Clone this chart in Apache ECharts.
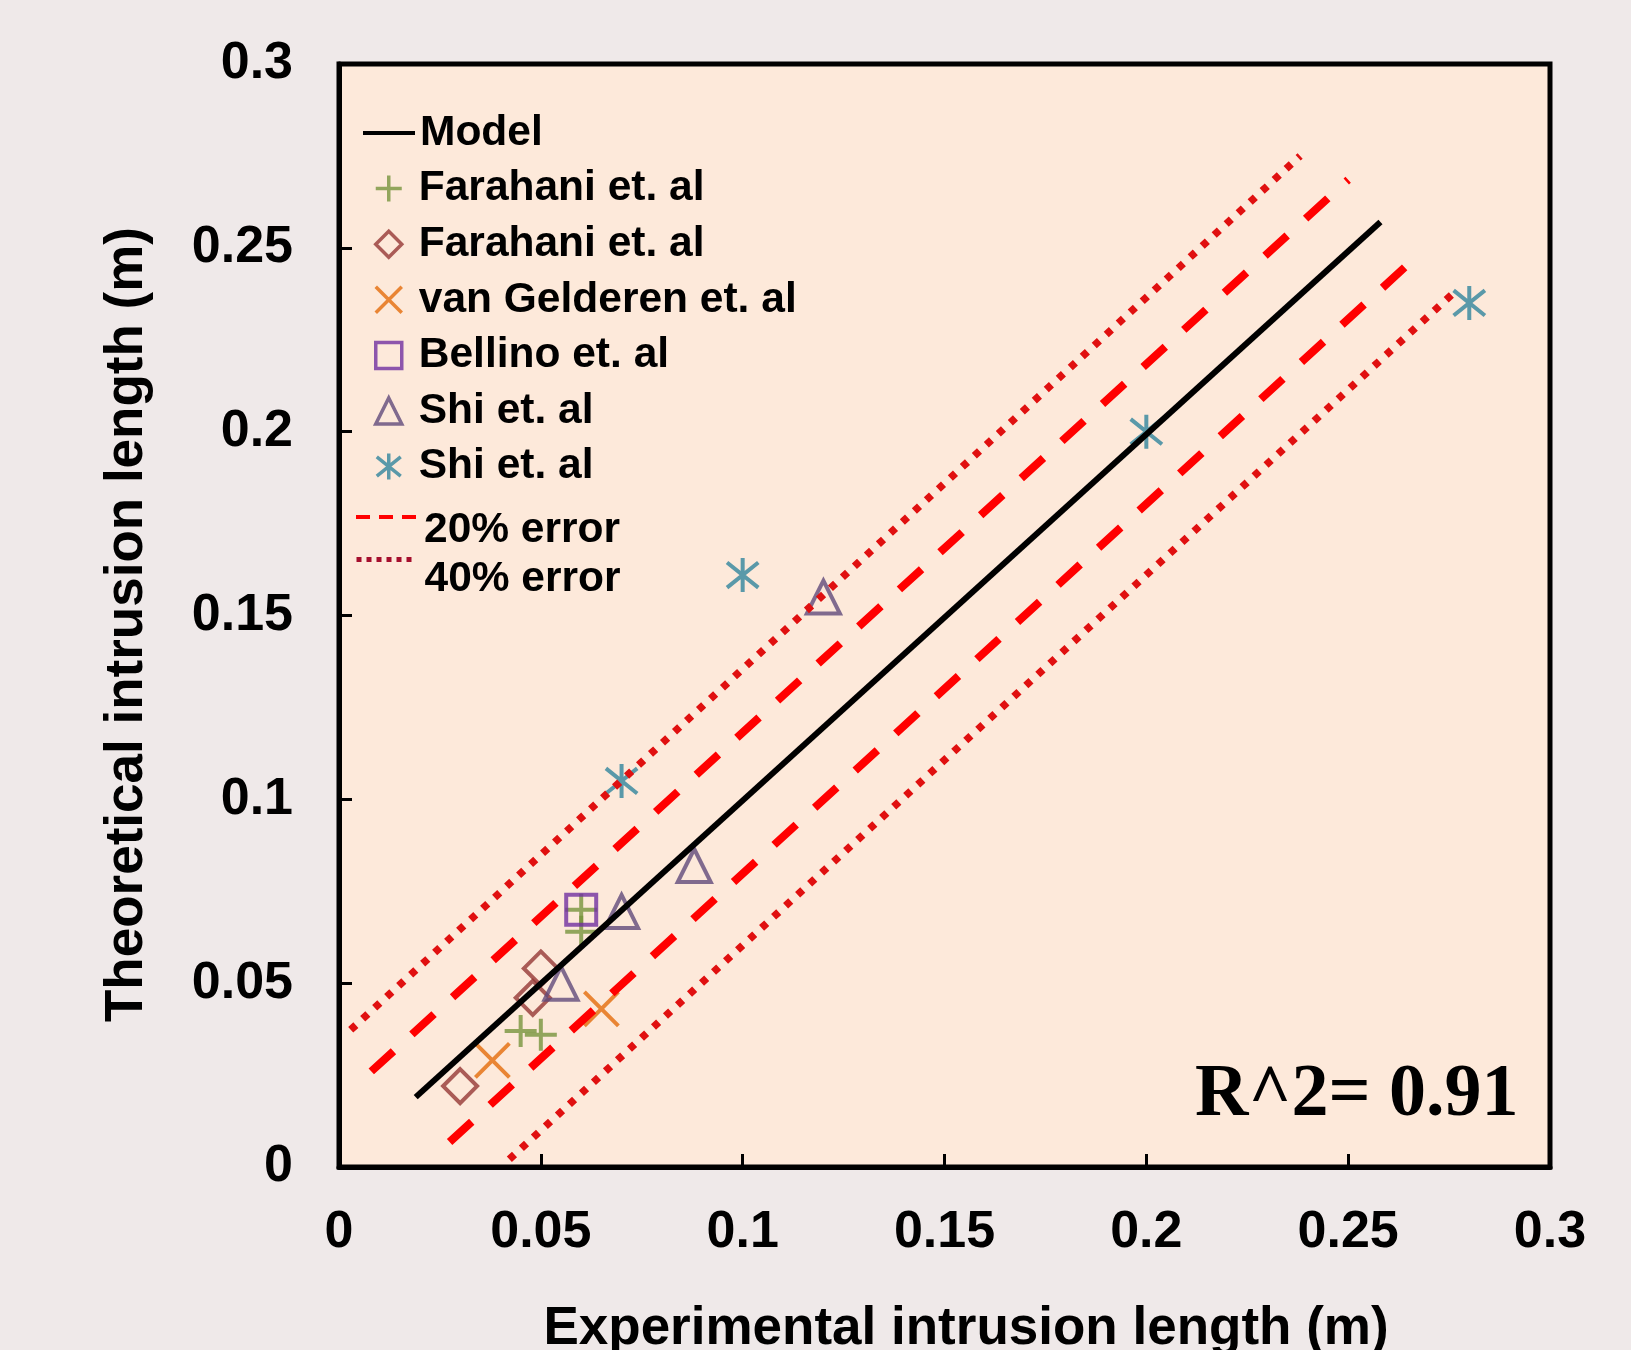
<!DOCTYPE html>
<html><head><meta charset="utf-8">
<script src="https://cdn.jsdelivr.net/npm/echarts@6/dist/echarts.min.js"></script>
<style>html,body{margin:0;padding:0;background:#EFE9E9;} #c{width:1631px;height:1350px;}</style>
</head><body><div id="c"></div>
<script>
// ---- data ----
const farahaniPlus = [[0.06,0.07],[0.06,0.064],[0.045,0.037],[0.05,0.036]];
const farahaniDiamond = [[0.05,0.054],[0.048,0.046],[0.03,0.022]];
const vanGelderen = [[0.038,0.029],[0.065,0.043]];
const bellino = [[0.06,0.07]];
const shiTriangle = [[0.055,0.05],[0.07,0.0695],[0.088,0.082],[0.12,0.155]];
const shiStar = [[0.07,0.105],[0.1,0.161],[0.2,0.2],[0.28,0.235]];
const modelLine = [[0.019,0.019],[0.258,0.257]];
const err20Upper = [[0.008,0.026],[0.25,0.2685]];
const err20Lower = [[0.0274,0.0068],[0.2683,0.249]];
const err40Upper = [[0.0029,0.0373],[0.2381,0.275]];
const err40Lower = [[0.0422,0.0021],[0.276,0.2376]];
const axisMin = 0, axisMax = 0.3, axisStep = 0.05;
const rSquaredText = 'R^2= 0.91';
const xTitle = 'Experimental intrusion length (m)';
const yTitle = 'Theoretical intrusion length (m)';

const FONT = 'Liberation Sans, Arial, sans-serif';
const PLUS = 'path://M0,5L10,5M5,0L5,10';
const CROSS = 'path://M0,0L10,10M10,0L0,10';
const STAR = 'path://M5,0L5,10M0.4,1.3L9.6,8.7M9.6,1.3L0.4,8.7';
const HIDDEN_DOT = { color: 'transparent', borderColor: 'transparent', borderWidth: 0, opacity: 0 };

function scatter(name, data, symbol, color, size) {
  return {
    type: 'scatter', name: name, data: data, symbol: symbol, symbolSize: size,
    symbolKeepAspect: true, z: 2, silent: true,
    itemStyle: { color: 'transparent', borderColor: color, borderWidth: 4 }
  };
}
function line(name, data, color, width, type) {
  return {
    type: 'line', name: name, data: data, symbol: 'none', z: 3, silent: true,
    lineStyle: { color: color, width: width, type: type, cap: 'butt' },
    itemStyle: { color: color }
  };
}

const chart = echarts.init(document.getElementById('c'), null, { renderer: 'canvas' });
const axisCommon = {
  type: 'value', min: axisMin, max: axisMax, interval: axisStep,
  splitLine: { show: false },
  axisLine: { show: true, lineStyle: { color: '#000', width: 5 } },
  axisTick: { show: true, inside: true, length: 13, lineStyle: { color: '#000', width: 3 } },
  nameLocation: 'middle'
};
const legendText = { fontFamily: FONT, fontWeight: 'bold', fontSize: 42.5, color: '#000' };
const option = {
  backgroundColor: '#EFE9E9',
  animation: false,
  title: {
    text: rSquaredText, left: 1195, top: 1059, padding: 0,
    textStyle: { fontFamily: 'Liberation Serif, Times New Roman, serif', fontWeight: 'bold', fontSize: 74, color: '#000' }
  },
  grid: {
    left: 339, top: 64, right: 81, bottom: 183, containLabel: false, outerBoundsMode: 'none',
    show: true, backgroundColor: '#FDE9DA', borderColor: '#000', borderWidth: 5
  },
  xAxis: Object.assign({}, axisCommon, {
    name: xTitle, nameGap: 136,
    nameTextStyle: { fontFamily: FONT, fontWeight: 'bold', fontSize: 53, color: '#000', padding: [0, 0, 0, 43] },
    axisLabel: { fontFamily: FONT, fontWeight: 'bold', fontSize: 52, color: '#000', margin: 40 }
  }),
  yAxis: Object.assign({}, axisCommon, {
    name: yTitle, nameGap: 185,
    nameTextStyle: { fontFamily: FONT, fontWeight: 'bold', fontSize: 53, color: '#000', padding: [0, 18, 0, 0] },
    axisLabel: { fontFamily: FONT, fontWeight: 'bold', fontSize: 52, color: '#000', margin: 46 }
  }),
  legend: [
    {
      left: 361, top: 111, orient: 'vertical', padding: 0,
      itemWidth: 52, itemHeight: 26, selectedMode: false,
      textStyle: Object.assign({ lineHeight: 44 }, legendText),
      data: [{ name: 'Model', lineStyle: { width: 4 }, itemStyle: HIDDEN_DOT }]
    },
    {
      left: 374, top: 166.6, orient: 'vertical', padding: 0, itemGap: 11.6,
      itemWidth: 26, itemHeight: 26, selectedMode: false, symbolKeepAspect: true,
      textStyle: Object.assign({ lineHeight: 44, padding: [0, 0, 0, 12] }, legendText),
      formatter: function (n) { return n.split('#')[0]; },
      data: [
        { name: 'Farahani et. al#1', itemStyle: { borderWidth: 3.5 } },
        { name: 'Farahani et. al#2', itemStyle: { borderWidth: 3.5 } },
        { name: 'van Gelderen et. al', itemStyle: { borderWidth: 3.5 } },
        { name: 'Bellino et. al', itemStyle: { borderWidth: 3.5 } },
        { name: 'Shi et. al#1', itemStyle: { borderWidth: 3.5 } },
        { name: 'Shi et. al#2', itemStyle: { borderWidth: 3.5 } }
      ]
    },
    {
      left: 354, top: 482, orient: 'vertical', padding: 0,
      itemWidth: 60, itemHeight: 20, selectedMode: false,
      textStyle: Object.assign({ lineHeight: 27, padding: [0, 0, 0, 3] }, legendText),
      formatter: function (n) { return '\n' + n; },
      data: [{ name: '20% error', lineStyle: { width: 4, type: [14, 9], color: '#FF0000' }, itemStyle: HIDDEN_DOT }]
    },
    {
      left: 354, top: 518, orient: 'vertical', padding: 0,
      itemWidth: 60, itemHeight: 20, selectedMode: false,
      textStyle: Object.assign({ lineHeight: 40, padding: [0, 0, 0, 3] }, legendText),
      formatter: function (n) { return '\n' + n; },
      data: [{ name: '40% error', lineStyle: { width: 5, type: [5, 5], color: '#A50F2D' }, itemStyle: HIDDEN_DOT }]
    }
  ],
  series: [
    line('Model', modelLine, '#000000', 6, 'solid'),
    scatter('Farahani et. al#1', farahaniPlus, PLUS, '#77933C', 32),
    scatter('Farahani et. al#2', farahaniDiamond, 'diamond', '#953735', 34),
    scatter('van Gelderen et. al', vanGelderen, CROSS, '#E46C0A', 34),
    scatter('Bellino et. al', bellino, 'rect', '#7030A0', 30),
    scatter('Shi et. al#1', shiTriangle, 'triangle', '#604A7B', 33),
    scatter('Shi et. al#2', shiStar, STAR, '#31859C', 34),
    line('20% error', err20Upper, '#FF0000', 8, [30, 25]),
    line('20% error', err20Lower, '#FF0000', 8, [30, 25]),
    line('40% error', err40Upper, '#E01010', 7.5, [7, 9.3]),
    line('40% error', err40Lower, '#E01010', 7.5, [7, 9.3])
  ]
};
chart.setOption(option);
</script></body></html>
